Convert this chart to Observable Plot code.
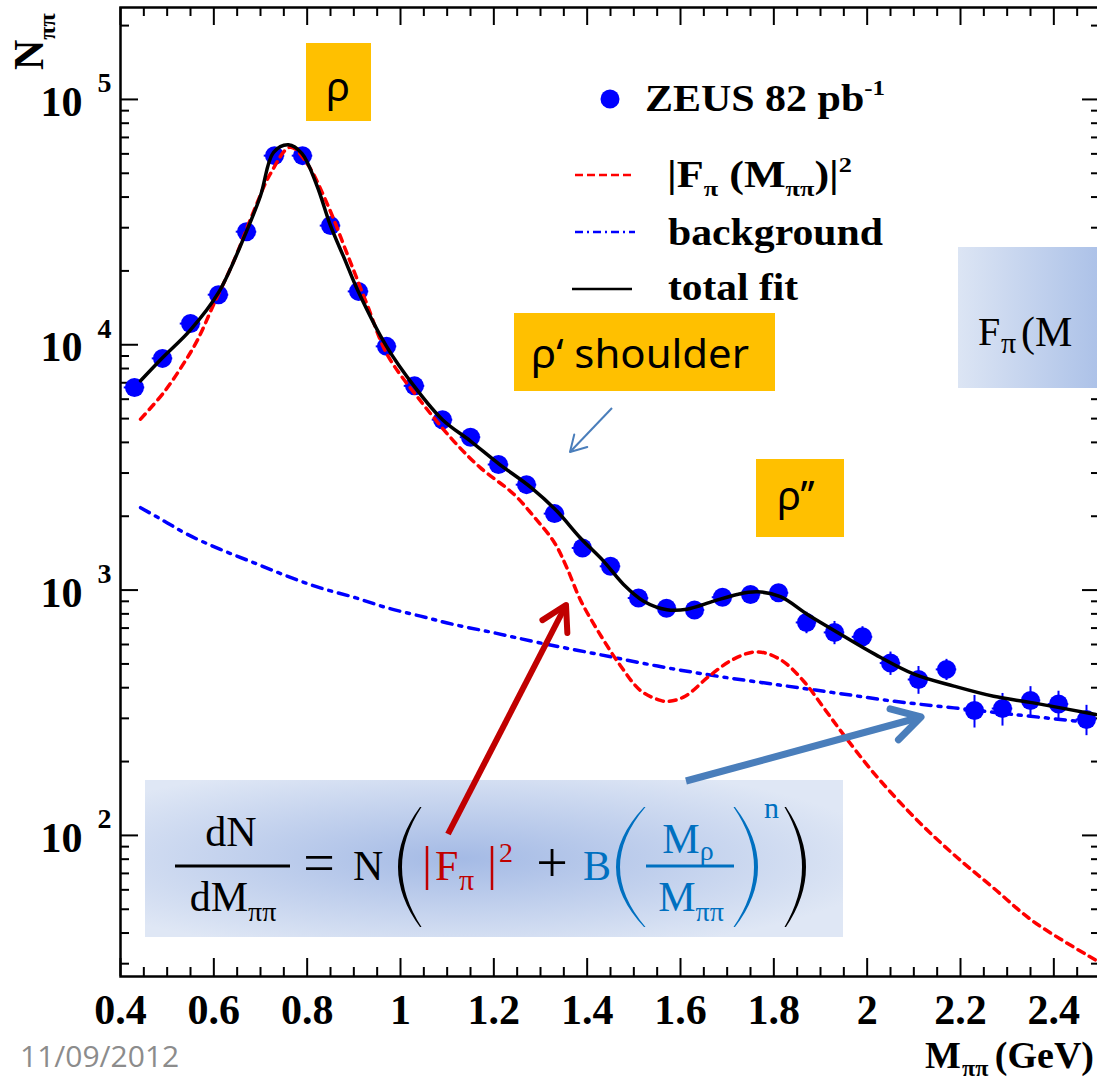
<!DOCTYPE html>
<html><head><meta charset="utf-8">
<script src="https://cdn.jsdelivr.net/npm/d3@7"></script>
<script src="https://cdn.jsdelivr.net/npm/@observablehq/plot@0.6"></script>
<style>
html,body{margin:0;padding:0;background:#fff;overflow:hidden;}
#wrap{position:relative;width:1100px;height:1082px;}
#wrap svg{position:absolute;left:0;top:0;}
</style></head><body><div id="wrap"></div>
<script>
// ---------------- data ----------------
const massBins = [0.43,0.49,0.55,0.61,0.67,0.73,0.79,0.85,0.91,0.97,1.03,1.09,1.15,1.21,1.27,1.33,1.39,1.45,1.51,1.57,1.63,1.69,1.75,1.81,1.87,1.93,1.99,2.05,2.11,2.17,2.23,2.29,2.35,2.41,2.47];
const zeusCounts = [6700,8800,12200,16000,28900,59000,59000,30600,16500,9850,6800,4950,4200,3250,2690,2050,1485,1250,928,843,830,935,960,975,738,672,645,504,432,475,323,329,355,343,297];
const zeusErrors = [200,230,280,330,500,800,800,520,330,220,170,130,120,100,85,70,60,55,50,50,52,58,62,65,74,73,64,55,56,47,49,50,49,44,42];

const fitMass = [0.443,0.49,0.55,0.61,0.67,0.70,0.728,0.76,0.789,0.82,0.85,0.88,0.91,0.97,1.03,1.09,1.15,1.21,1.28,1.335,1.385,1.435,1.478,1.521,1.571,1.614,1.671,1.721,1.765,1.814,1.873,1.932,2.017,2.102,2.186,2.271,2.356,2.49];
const fitValues = [7130,8850,11500,16300,29000,40500,60800,65300,60100,45000,30600,22400,16400,9850,6750,4950,4050,3280,2617,2100,1635,1313,1054,901,832,836,901,960,984,940,794,680,547,453,406,369,347,311];

const formFactorMass = [0.443,0.493,0.532,0.564,0.60,0.643,0.686,0.721,0.764,0.80,0.843,0.886,0.928,0.971,1.04,1.114,1.171,1.243,1.29,1.33,1.356,1.386,1.429,1.471,1.514,1.557,1.576,1.61,1.661,1.712,1.763,1.814,1.864,1.907,1.949,2.017,2.102,2.186,2.271,2.356,2.49];
const formFactorValues = [4977,6400,8200,10370,14650,22000,35200,49700,63900,54700,37500,23400,14650,9160,6000,4050,3155,2458,1950,1560,1240,908,653,493,390,355,352,369,445,521,560,521,425,331,258,177,118,83.4,61,44.6,31];

const backgroundMass = [0.443,0.493,0.543,0.614,0.686,0.757,0.828,0.90,0.971,1.043,1.114,1.20,1.297,1.424,1.551,1.678,1.805,1.932,2.059,2.186,2.314,2.49];
const backgroundValues = [2167,1914,1688,1465,1292,1140,1021,935,847,783,724,670,610,547,490,446,412,381,352,331,311,287];

const xMajorTicks = [0.4,0.6,0.8,1.0,1.2,1.4,1.6,1.8,2.0,2.2,2.4];
const xTickLabels = ["0.4","0.6","0.8","1","1.2","1.4","1.6","1.8","2","2.2","2.4"];
const xMinorTicks = [0.45,0.5,0.55,0.65,0.7,0.75,0.85,0.9,0.95,1.05,1.1,1.15,1.25,1.3,1.35,1.45,1.5,1.55,1.65,1.7,1.75,1.85,1.9,1.95,2.05,2.1,2.15,2.25,2.3,2.35,2.45];
const yMajorTicks = [100,1000,10000,100000];
const yTickExponents = ["2","3","4","5"];
const yMinorTicks = [30,40,50,60,70,80,90,200,300,400,500,600,700,800,900,2000,3000,4000,5000,6000,7000,8000,9000,20000,30000,40000,50000,60000,70000,80000,90000,200000];

// ---------------- tables for the library ----------------
const points = massBins.map((m,i)=>({x:m, y:zeusCounts[i], e:zeusErrors[i]}));
const fitLine = fitMass.map((m,i)=>({x:m, y:fitValues[i]}));
const ffLine = formFactorMass.map((m,i)=>({x:m, y:formFactorValues[i]}));
const bgLine = backgroundMass.map((m,i)=>({x:m, y:backgroundValues[i]}));

const W = 1100, H = 1082, ML = 120, MR = 0, MT = 7, MB = 106;
const innerW = W - ML - MR, innerH = H - MT - MB;
const SERIF = "'Liberation Serif', 'Times New Roman', serif";
const BLUE = "#0000ff";

const plot = Plot.plot({
  width: W, height: H,
  marginLeft: ML, marginRight: MR, marginTop: MT, marginBottom: MB,
  x: {domain: [0.4, 2.5], axis: null},
  y: {type: "log", domain: [26.6, 237000], axis: null},
  style: {background: "white", fontFamily: SERIF, color: "black"},
  marks: [
    Plot.ruleX(xMajorTicks, {x: d=>d, insetTop: innerH - 18, stroke: "black", strokeWidth: 2}),
    Plot.ruleX(xMinorTicks, {x: d=>d, insetTop: innerH - 9, stroke: "black", strokeWidth: 2}),
    Plot.ruleX(xMajorTicks, {x: d=>d, insetBottom: innerH - 18, stroke: "black", strokeWidth: 2}),
    Plot.ruleX(xMinorTicks, {x: d=>d, insetBottom: innerH - 9, stroke: "black", strokeWidth: 2}),
    Plot.ruleY(yMajorTicks, {y: d=>d, insetRight: innerW - 18, stroke: "black", strokeWidth: 2}),
    Plot.ruleY(yMinorTicks, {y: d=>d, insetRight: innerW - 9, stroke: "black", strokeWidth: 2}),
    Plot.ruleY(yMajorTicks, {y: d=>d, insetLeft: innerW - 18, stroke: "black", strokeWidth: 2}),
    Plot.ruleY(yMinorTicks, {y: d=>d, insetLeft: innerW - 9, stroke: "black", strokeWidth: 2}),
    Plot.ruleX(points, {x: "x", y1: d=>d.y-d.e, y2: d=>d.y+d.e, stroke: BLUE, strokeWidth: 2}),
    Plot.ruleY(points, {y: "y", x1: d=>d.x-0.022, x2: d=>d.x+0.022, stroke: BLUE, strokeWidth: 2}),
    Plot.dot(points, {x: "x", y: "y", r: 9.5, fill: BLUE}),
    Plot.line(bgLine, {x: "x", y: "y", stroke: BLUE, strokeWidth: 3.5, strokeDasharray: "10,7,3,7", curve: "catmull-rom"}),
    Plot.line(ffLine, {x: "x", y: "y", stroke: "#ff0000", strokeWidth: 3.5, strokeDasharray: "7,6", curve: "catmull-rom"}),
    Plot.line(fitLine, {x: "x", y: "y", stroke: "black", strokeWidth: 3.5, curve: "catmull-rom"}),
    Plot.frame({stroke: "black", strokeWidth: 2.5}),
    Plot.text(yMajorTicks, {y: d=>d, frameAnchor: "left", dx: -38, dy: 3, text: ()=>"10", textAnchor: "end", lineAnchor: "middle", fontSize: 42, fontWeight: "bold", fill: "black"}),
    Plot.text(yMajorTicks, {y: d=>d, frameAnchor: "left", dx: -23, dy: -16, text: (d,i)=>yTickExponents[i], textAnchor: "start", lineAnchor: "middle", fontSize: 28, fontWeight: "bold", fill: "black"}),
    Plot.text(xMajorTicks, {x: d=>d, frameAnchor: "bottom", dy: 34, text: (d,i)=>xTickLabels[i], lineAnchor: "middle", fontSize: 42, fontWeight: "bold", fill: "black"})
  ]
});
document.getElementById("wrap").appendChild(plot);

// ---------------- overlay annotations ----------------
const ov = d3.select("#wrap").append("svg").attr("width", W).attr("height", H);
const defs = ov.append("defs");
const rg = defs.append("radialGradient").attr("id","fgrad").attr("cx","0.45").attr("cy","0.5").attr("r","0.62");
rg.append("stop").attr("offset","0%").attr("stop-color","#a4bae5");
rg.append("stop").attr("offset","100%").attr("stop-color","#dfe7f5");
const lg = defs.append("linearGradient").attr("id","lgrad").attr("x1","0").attr("x2","1").attr("y1","0").attr("y2","0");
lg.append("stop").attr("offset","0%").attr("stop-color","#dce5f4");
lg.append("stop").attr("offset","100%").attr("stop-color","#a9bfe7");

function rich(x, y, parts, base) {
  const t = ov.append("text").attr("x", x).attr("y", y)
    .attr("font-family", base.family || SERIF).attr("font-size", base.size)
    .attr("font-weight", base.weight || "normal").attr("fill", base.fill || "black")
    .attr("text-anchor", base.anchor || "start");
  if (base.transform) t.attr("transform", base.transform);
  if (base.len) t.attr("textLength", base.len).attr("lengthAdjust", "spacingAndGlyphs");
  let cur = 0;
  for (const p of parts) {
    const s = t.append("tspan").text(p.t);
    const off = p.off || 0;
    if (off !== cur) { s.attr("dy", off - cur); cur = off; }
    if (p.size) s.attr("font-size", p.size);
    if (p.fill) s.attr("fill", p.fill);
    if (p.dx) s.attr("dx", p.dx);
  }
  return t;
}
function line(x1,y1,x2,y2,stroke,w,dash){
  const l = ov.append("line").attr("x1",x1).attr("y1",y1).attr("x2",x2).attr("y2",y2)
    .attr("stroke",stroke).attr("stroke-width",w);
  if (dash) l.attr("stroke-dasharray", dash);
  return l;
}
function arrow(x1,y1,x2,y2,stroke,w,head){
  line(x1,y1,x2,y2,stroke,w).attr("stroke-linecap","butt");
  const a = Math.atan2(y2-y1, x2-x1), s = Math.PI/6;
  const p = [[x2 - head*Math.cos(a - s), y2 - head*Math.sin(a - s)],[x2,y2],[x2 - head*Math.cos(a + s), y2 - head*Math.sin(a + s)]];
  ov.append("path").attr("d", d3.line()(p)).attr("fill","none").attr("stroke",stroke)
    .attr("stroke-width",w).attr("stroke-linecap","round").attr("stroke-linejoin","round");
}
function paren(xEnd, xMid, yTop, yBot, thick, fill) {
  const ym = (yTop+yBot)/2, dir = Math.sign(xMid - xEnd);
  const c1 = 2*xMid - xEnd, c2 = 2*(xMid - dir*thick) - (xEnd - dir*1.5);
  ov.append("path").attr("d",
    `M${xEnd},${yTop} Q${c1},${ym} ${xEnd},${yBot} L${xEnd - dir*1.5},${yBot} Q${c2},${ym} ${xEnd - dir*1.5},${yTop} Z`)
    .attr("fill", fill);
}

// legend
ov.append("circle").attr("cx",610).attr("cy",99).attr("r",9.5).attr("fill",BLUE);
rich(645, 111, [{t:"ZEUS 82 pb"},{t:"-1", off:-16, size:22}], {size: 37, weight: "bold", len: 240});
line(575,175,635,175,"#ff0000",2.5,"8,4");
rich(667, 187, [{t:"|F"},{t:"π", off:9, size:22},{t:" (M", off:0},{t:"ππ", off:9, size:22},{t:")|", off:0},{t:"2", off:-15, size:22}], {size: 37, weight: "bold", len: 185});
line(575,232,635,232,BLUE,2.5,"8,4,2,4");
rich(668, 245, [{t:"background"}], {size: 37, weight: "bold", len: 215});
line(572,289,632,289,"black",2.5);
rich(668, 300, [{t:"total fit"}], {size: 37, weight: "bold", len: 130});

// axis titles
rich(0, 0, [{t:"N"},{t:"ππ", off:12, size:24}], {size: 42, weight: "bold", transform: "translate(43,70) rotate(-90)"});
rich(925, 1068, [{t:"M"}], {size: 38, weight: "bold"});
rich(962, 1076, [{t:"ππ"}], {size: 24, weight: "bold"});
rich(1094, 1068, [{t:"(GeV)"}], {size: 38, weight: "bold", anchor: "end"});
rich(20, 1067, [{t:"11/09/2012"}], {size: 30, family: "'Open Sans', sans-serif", fill: "#8c8c8c"});

// slide boxes
const SANS = "'Noto Sans', 'Open Sans', sans-serif";
ov.append("rect").attr("x",306).attr("y",43).attr("width",65).attr("height",78).attr("fill","#ffc000");
rich(338, 101, [{t:"ρ"}], {size: 40, family: SANS, anchor: "middle"});
ov.append("rect").attr("x",514).attr("y",313).attr("width",261).attr("height",78).attr("fill","#ffc000");
rich(531, 368, [{t:"ρ‘ shoulder"}], {size: 40, family: SANS, len: 218});
ov.append("rect").attr("x",756).attr("y",459).attr("width",88).attr("height",78).attr("fill","#ffc000");
rich(777, 510, [{t:"ρ’’"}], {size: 40, family: SANS});

// right formula fragment box
ov.append("rect").attr("x",958).attr("y",247).attr("width",150).attr("height",141).attr("fill","url(#lgrad)");
rich(978, 345, [{t:"F"}], {size: 40});
rich(1001, 353, [{t:"π"}], {size: 30});
rich(1021, 346, [{t:"(M"}], {size: 42});

// formula box
ov.append("rect").attr("x",145).attr("y",780).attr("width",698).attr("height",157).attr("fill","url(#fgrad)");
const FS = 42, SUB = 28, RED = "#c00000", FBLUE = "#0070c0";
rich(231, 846, [{t:"dN"}], {size: FS, anchor: "middle"});
line(175,866,290,866,"black",3);
rich(233, 911, [{t:"dM"},{t:"ππ", off:10, size:SUB}], {size: FS, anchor: "middle"});
rich(319, 882, [{t:"="}], {size: 56, anchor: "middle"});
rich(353, 880, [{t:"N"}], {size: FS});
paren(420, 398, 807, 927, 4, "black");
line(427,846,427,890,RED,2.5);
rich(435, 880, [{t:"F"}], {size: FS, fill: RED});
rich(459, 890, [{t:"π"}], {size: 30, fill: RED});
line(492,846,492,890,RED,2.5);
rich(499, 862, [{t:"2"}], {size: SUB, fill: RED});
rich(552, 882, [{t:"+"}], {size: 56, anchor: "middle"});
rich(583, 880, [{t:"B"}], {size: FS, fill: FBLUE});
paren(644, 616, 807, 927, 4, FBLUE);
line(646,866,734,866,FBLUE,3);
rich(688, 853, [{t:"M"},{t:"ρ", off:7, size:SUB}], {size: FS, anchor: "middle", fill: FBLUE});
rich(691, 911, [{t:"M"},{t:"ππ", off:10, size:SUB}], {size: FS, anchor: "middle", fill: FBLUE});
paren(735, 758, 807, 927, 4, FBLUE);
rich(764, 818, [{t:"n"}], {size: 30, fill: FBLUE});
paren(786, 806, 807, 927, 4, "black");

// arrows
arrow(612,408,570,452,"#4a7ebb",2,18);
arrow(448,834,566,605,RED,6,28);
arrow(686,781,921,717,"#4a7ebb",7,32);
</script></body></html>
